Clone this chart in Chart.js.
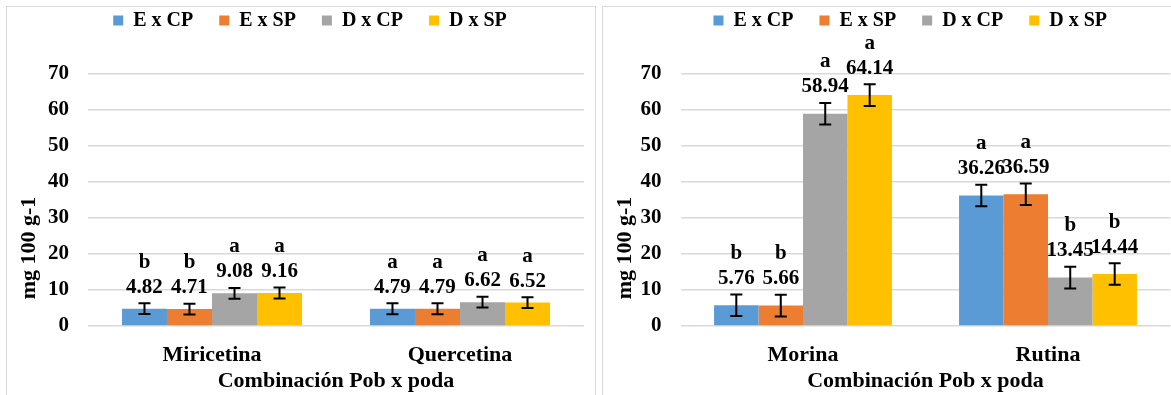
<!DOCTYPE html>
<html>
<head>
<meta charset="utf-8">
<script src="https://cdn.jsdelivr.net/npm/chart.js@4/dist/chart.umd.min.js"></script>
<style>
  html, body { margin: 0; padding: 0; background: #fff; width: 1171px; height: 395px; overflow: hidden; }
  .panel { position: absolute; top: 6px; height: 400px; border: 1px solid #d9d9d9; box-sizing: border-box; background: #fff; }
  #panelA { left: 6px; width: 590px; }
  #panelB { left: 602px; width: 642px; }
  .wrap { position: absolute; left: 0; top: 0; height: 388px; }
  #panelA .wrap { width: 588px; }
  #panelB .wrap { width: 640px; }
</style>
</head>
<body>
<div class="panel" id="panelA"><div class="wrap"><canvas id="chartA"></canvas></div></div>
<div class="panel" id="panelB"><div class="wrap"><canvas id="chartB"></canvas></div></div>
<script>
// Series names shared by both charts
const seriesNames = ['E x CP', 'E x SP', 'D x CP', 'D x SP'];
const seriesColors = ['#5b9bd5', '#ed7d31', '#a5a5a5', '#ffc000'];
const yTicks = [0, 10, 20, 30, 40, 50, 60, 70];
const yAxisTitle = 'mg 100 g-1';
const xAxisTitle = 'Combinación Pob x poda';

// Chart A: Miricetina / Quercetina
const categoriesA = ['Miricetina', 'Quercetina'];
const exCpA = [4.82, 4.79];
const exSpA = [4.71, 4.79];
const dxCpA = [9.08, 6.62];
const dxSpA = [9.16, 6.52];
const lettersExCpA = ['b', 'a'];
const lettersExSpA = ['b', 'a'];
const lettersDxCpA = ['a', 'a'];
const lettersDxSpA = ['a', 'a'];
const errExCpA = [1.5, 1.5];
const errExSpA = [1.5, 1.5];
const errDxCpA = [1.5, 1.5];
const errDxSpA = [1.5, 1.5];

// Chart B: Morina / Rutina
const categoriesB = ['Morina', 'Rutina'];
const exCpB = [5.76, 36.26];
const exSpB = [5.66, 36.59];
const dxCpB = [58.94, 13.45];
const dxSpB = [64.14, 14.44];
const lettersExCpB = ['b', 'a'];
const lettersExSpB = ['b', 'a'];
const lettersDxCpB = ['a', 'b'];
const lettersDxSpB = ['a', 'b'];
const errExCpB = [3, 3];
const errExSpB = [3, 3];
const errDxCpB = [3, 3];
const errDxSpB = [3, 3];

const FONT = '"Liberation Serif", "Times New Roman", serif';

// Fixes the legend band height (so both plot areas start at the same place)
// and nudges the legend row sideways after layout
const legendBand = {
  id: 'legendBand',
  beforeLayout(chart, args, opts) {
    const lg = chart.legend;
    if (lg && !lg._bandPatched) {
      const fit = lg.fit;
      lg.fit = function () { fit.call(this); this.height = opts.height; };
      lg._bandPatched = true;
    }
  },
  afterLayout(chart, args, opts) {
    const lg = chart.legend;
    if (lg) { lg.left += opts.shift; lg.right += opts.shift; }
  }
};

// Error bars and "letter / value" labels above each bar
const barAnnotations = {
  id: 'barAnnotations',
  afterDatasetsDraw(chart) {
    const ctx = chart.ctx;
    const y = chart.scales.y;
    chart.data.datasets.forEach((ds, i) => {
      const meta = chart.getDatasetMeta(i);
      meta.data.forEach((bar, j) => {
        const v = ds.data[j];
        const e = ds.errors[j];
        const yTop = y.getPixelForValue(v + e);
        const yBot = y.getPixelForValue(v - e);
        ctx.save();
        ctx.strokeStyle = '#000';
        ctx.lineWidth = 2;
        ctx.beginPath();
        ctx.moveTo(bar.x, yTop); ctx.lineTo(bar.x, yBot);
        ctx.moveTo(bar.x - 6, yTop); ctx.lineTo(bar.x + 6, yTop);
        ctx.moveTo(bar.x - 6, yBot); ctx.lineTo(bar.x + 6, yBot);
        ctx.stroke();
        ctx.fillStyle = '#000';
        ctx.font = 'bold 21px ' + FONT;
        ctx.textAlign = 'center';
        ctx.textBaseline = 'middle';
        const valueY = yTop - 16;
        ctx.fillText(v.toFixed(2), bar.x, valueY);
        ctx.fillText(ds.letters[j], bar.x, valueY - 25);
        ctx.restore();
      });
    });
  }
};

// Rotated value-axis title
const yTitle = {
  id: 'yTitle',
  afterDraw(chart, args, opts) {
    const ctx = chart.ctx;
    ctx.save();
    ctx.translate(opts.x, opts.y);
    ctx.rotate(-Math.PI / 2);
    ctx.fillStyle = '#000';
    ctx.font = 'bold 22px ' + FONT;
    ctx.textAlign = 'center';
    ctx.textBaseline = 'middle';
    ctx.fillText(yAxisTitle, 0, 0);
    ctx.restore();
  }
};

function buildChart(id, categories, values, letters, errors, yWidth, padRight, legendShift) {
  const datasets = seriesNames.map((name, k) => ({
    label: name,
    data: values[k],
    letters: letters[k],
    errors: errors[k],
    backgroundColor: seriesColors[k],
    borderWidth: 0,
    barPercentage: 1.0,
    categoryPercentage: 0.726
  }));
  return new Chart(document.getElementById(id), {
    type: 'bar',
    data: { labels: categories, datasets },
    plugins: [legendBand, barAnnotations, yTitle],
    options: {
      responsive: true,
      maintainAspectRatio: false,
      animation: false,
      layout: { padding: { top: -22.5, right: padRight, left: 0, bottom: 0 } },
      plugins: {
        legendBand: { height: 89.5, shift: legendShift },
        yTitle: { x: 22, y: 241 },
        tooltip: { enabled: false },
        legend: {
          position: 'top',
          align: 'center',
          labels: {
            boxWidth: 10,
            boxHeight: 10,
            padding: 26,
            color: '#000',
            font: { family: FONT, size: 20, weight: 'bold' }
          }
        }
      },
      scales: {
        x: {
          grid: { display: false, drawTicks: false },
          border: { display: false },
          ticks: { color: '#000', padding: 16, font: { family: FONT, size: 22, weight: 'bold' } },
          title: {
            display: true,
            text: xAxisTitle,
            color: '#000',
            font: { family: FONT, size: 22, weight: 'bold' },
            padding: { top: 0, bottom: 0 }
          },
          afterFit(scale) { scale.height = 69; }
        },
        y: {
          min: 0,
          max: 70,
          afterBuildTicks(scale) { scale.ticks = yTicks.map(v => ({ value: v })); },
          grid: { color: '#d9d9d9', lineWidth: 1.5, drawTicks: false },
          border: { display: false },
          ticks: { color: '#000', padding: 19, font: { family: FONT, size: 21, weight: 'bold' } },
          afterFit(scale) { scale.width = yWidth; }
        }
      }
    }
  });
}

buildChart('chartA', categoriesA,
  [exCpA, exSpA, dxCpA, dxSpA],
  [lettersExCpA, lettersExSpA, lettersDxCpA, lettersDxSpA],
  [errExCpA, errExSpA, errDxCpA, errDxSpA],
  81, 11, 14.5);

buildChart('chartB', categoriesB,
  [exCpB, exSpB, dxCpB, dxSpB],
  [lettersExCpB, lettersExSpB, lettersDxCpB, lettersDxSpB],
  [errExCpB, errExSpB, errDxCpB, errDxSpB],
  77.5, 72.5, 23.5);
</script>
</body>
</html>
